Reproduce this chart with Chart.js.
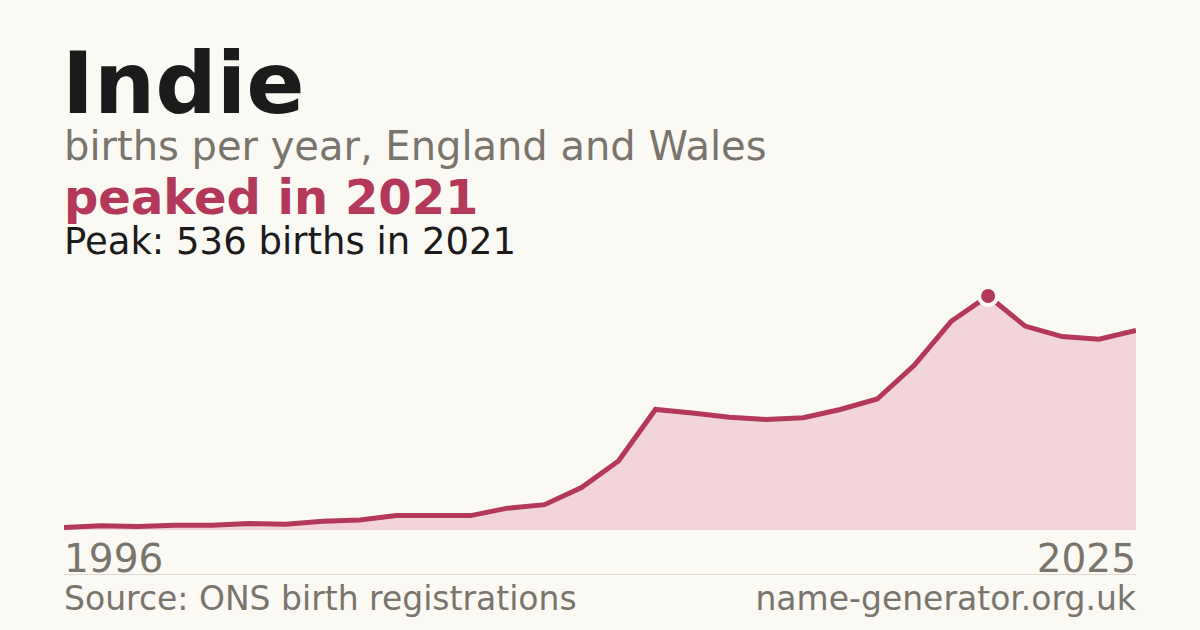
<!DOCTYPE html>
<html>
<head>
<meta charset="utf-8">
<script src="https://cdn.jsdelivr.net/npm/chart.js@4/dist/chart.umd.min.js"></script>
<style>
  html, body { margin: 0; padding: 0; }
  body {
    width: 1200px; height: 630px; position: relative; overflow: hidden;
    background: #faf9f4; font-family: "DejaVu Sans", sans-serif;
  }
  .t { position: absolute; white-space: nowrap; line-height: 1; }
  #title { left: 62px; top: 40px; font-size: 86px; font-weight: bold; color: #1b1b1b; }
  #sub { left: 64px; top: 126px; font-size: 40px; color: #7a756c; }
  #headline { left: 64px; top: 173px; font-size: 48px; font-weight: bold; color: #b3385a; }
  #peak { left: 64px; top: 223px; font-size: 37px; color: #1b1b1b; }
  #firstYear { left: 64px; top: 539px; font-size: 39px; color: #7a756c; }
  #lastYear { right: 64px; top: 539px; font-size: 39px; color: #7a756c; }
  #rule { position: absolute; left: 64px; width: 1072px; top: 574px; height: 1px; background: #dedad2; }
  #source { left: 64px; top: 582px; font-size: 33px; color: #7a756c; }
  #site { right: 64px; top: 582px; font-size: 33px; color: #7a756c; }
  #wrap { position: absolute; left: 64px; top: 268px; width: 1072px; height: 262px; }
</style>
</head>
<body>
<div class="t" id="title">Indie</div>
<div class="t" id="sub">births per year, England and Wales</div>
<div class="t" id="headline">peaked in 2021</div>
<div class="t" id="peak">Peak: 536 births in 2021</div>
<div id="wrap"><canvas id="birthChart"></canvas></div>
<div class="t" id="firstYear">1996</div>
<div class="t" id="lastYear">2025</div>
<div id="rule"></div>
<div class="t" id="source">Source: ONS birth registrations</div>
<div class="t" id="site">name-generator.org.uk</div>
<script>
const years = [1996, 1997, 1998, 1999, 2000, 2001, 2002, 2003, 2004, 2005,
    2006, 2007, 2008, 2009, 2010, 2011, 2012, 2013, 2014, 2015,
    2016, 2017, 2018, 2019, 2020, 2021, 2022, 2023, 2024, 2025];
const births = [6, 10, 8, 11, 11, 15, 13, 20, 23, 33,
    33, 33, 50, 58, 97, 158, 276, 268, 258, 253,
    257, 276, 300, 377, 478, 536, 467, 443, 437, 457];
const peakYear = 2021;
const yMax = 600;

const lineColor = "#b3385a";

const birthChart = document.getElementById("birthChart");

new Chart(birthChart, {
    type: "line",
    data: {
        labels: years,
        datasets: [
            {
                label: "Births",
                data: births,
                borderColor: lineColor,
                borderWidth: 5,
                backgroundColor: "#f1d5db",
                fill: "origin",
                tension: 0,
                clip: false,
                // only the peak year gets a dot
                pointRadius: years.map((y) => (y === peakYear ? 9 : 0)),
                pointBackgroundColor: lineColor,
                pointBorderColor: "#faf9f4",
                pointBorderWidth: 4,
            },
        ],
    },
    options: {
        responsive: true,
        maintainAspectRatio: false,
        animation: false,
        layout: { padding: 0 },
        scales: {
            x: { display: false, offset: false },
            y: { display: false, min: 0, max: yMax },
        },
        plugins: {
            legend: { display: false },
            tooltip: { enabled: false },
        },
    },
});
</script>
</body>
</html>
